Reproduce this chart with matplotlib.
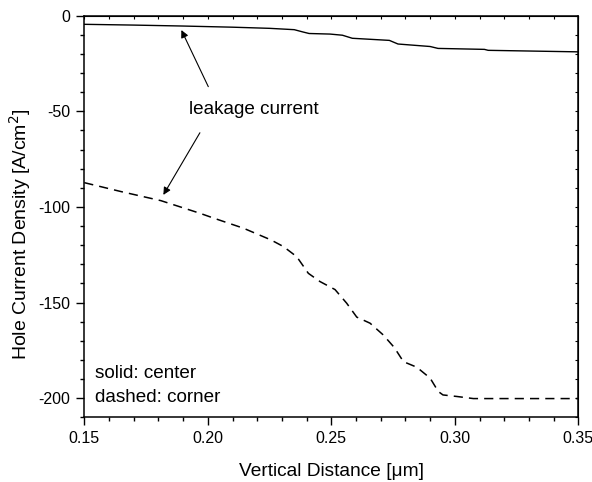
import matplotlib
matplotlib.use("Agg")
import matplotlib.pyplot as plt
from matplotlib.ticker import MultipleLocator

plt.rcParams['font.family'] = ['Liberation Sans', 'DejaVu Sans']
plt.rcParams['axes.unicode_minus'] = False

# solid: center
center_x = [0.15, 0.17, 0.19, 0.21, 0.225, 0.235, 0.2385, 0.241, 0.2495, 0.2545,
            0.2585, 0.2735, 0.277, 0.29, 0.2932, 0.312, 0.3135, 0.35]
center_y = [-4.5, -4.9, -5.4, -6.0, -6.6, -7.3, -8.5, -9.3, -9.6, -10.2,
            -11.8, -12.9, -14.8, -16.1, -17.1, -17.6, -18.1, -18.9]

# dashed: corner
corner_x = [0.15, 0.165, 0.181, 0.1968, 0.2025, 0.2144, 0.2255, 0.2306, 0.236, 0.2407,
            0.2454, 0.2515, 0.2562, 0.2603, 0.2657, 0.271, 0.2755, 0.2792, 0.2846, 0.29,
            0.2933, 0.2952, 0.3008, 0.3075, 0.35]
corner_y = [-87.3, -92.0, -96.7, -103.3, -105.9, -111.1, -117.2, -120.7, -126.0, -134.7,
            -139.0, -143.2, -150.3, -157.6, -160.8, -166.9, -173.5, -180.9, -183.8, -189.5,
            -196.5, -198.3, -199.1, -200.2, -200.2]

x_ticks = [0.15, 0.20, 0.25, 0.30, 0.35]
x_ticklabels = ['0.15', '0.20', '0.25', '0.30', '0.35']
y_ticks = [0, -50, -100, -150, -200]
y_ticklabels = ['0', '-50', '-100', '-150', '-200']

fig = plt.figure(figsize=(5.92, 4.82), dpi=100)
ax = fig.add_axes([0.1424, 0.1342, 0.8345, 0.8332])

ax.plot(center_x, center_y, color='black', lw=1.0)
ax.plot(corner_x, corner_y, color='black', lw=1.1, linestyle=(0, (6, 4)))

ax.set_xlim(0.15, 0.35)
ax.set_ylim(-210, 0)
ax.set_xticks(x_ticks)
ax.set_xticklabels(x_ticklabels)
ax.set_yticks(y_ticks)
ax.set_yticklabels(y_ticklabels)
ax.xaxis.set_minor_locator(MultipleLocator(0.01))
ax.yaxis.set_minor_locator(MultipleLocator(10))
ax.tick_params(which='major', direction='out', length=6, width=1.0, labelsize=11.5, pad=4)
ax.tick_params(which='minor', direction='out', length=3, width=1.0)
for s in ax.spines.values():
    s.set_linewidth(1.1)

secx = ax.secondary_xaxis('top')
secx.set_xticks(x_ticks)
secx.xaxis.set_minor_locator(MultipleLocator(0.01))
secx.tick_params(which='both', direction='in', length=2, width=0.8, labeltop=False)
secx.set_xticklabels([])
secy = ax.secondary_yaxis('right')
secy.set_yticks(y_ticks)
secy.yaxis.set_minor_locator(MultipleLocator(10))
secy.tick_params(which='both', direction='in', length=2, width=0.8, labelright=False)
secy.set_yticklabels([])

ax.set_xlabel('Vertical Distance [\u03bcm]', fontsize=13.8, labelpad=12)
ax.set_ylabel('Hole Current Density [A/cm$^2$]', fontsize=14)
ax.yaxis.set_label_coords(-0.104, 0.455)

ax.text(0.2187, -49.3, 'leakage current', fontsize=13.6, ha='center', va='center')
ax.annotate('', xy=(0.1893, -7.5), xytext=(0.2002, -37.1),
            arrowprops=dict(arrowstyle='-|>', lw=0.8, color='black', mutation_scale=11,
                            shrinkA=0, shrinkB=0))
ax.annotate('', xy=(0.182, -93.7), xytext=(0.1968, -61.2),
            arrowprops=dict(arrowstyle='-|>', lw=0.8, color='black', mutation_scale=11,
                            shrinkA=0, shrinkB=0))

ax.text(0.1544, -189.5, 'solid: center', fontsize=13.6, ha='left', va='baseline')
ax.text(0.1544, -201.8, 'dashed: corner', fontsize=13.6, ha='left', va='baseline')

fig.savefig('out.png', dpi=100)
